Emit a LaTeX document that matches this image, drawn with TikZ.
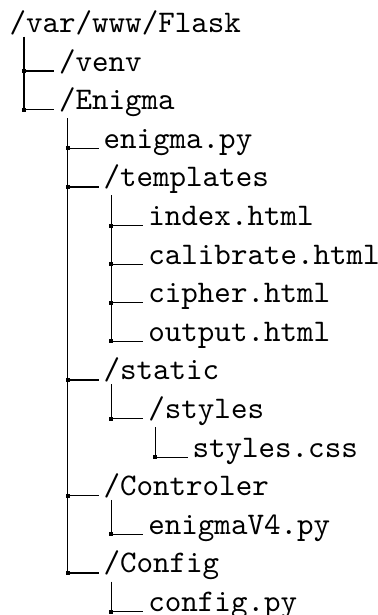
\documentclass[tikz,border=0pt]{standalone}
\usepackage{tikz}
\usetikzlibrary{calc}
\tikzset{
entry/.style={anchor=base west, inner xsep=0pt, inner ysep=0.3pt, scale=1.573,
	font=\fontsize{10}{12}\selectfont\ttfamily},
knot/.style={fill, inner sep=0pt, minimum size=2pt},
trunk/.style={line width=0.6pt},
branch/.style={trunk, shorten >=2.2pt},
}
\begin{document}
\begin{tikzpicture}[x=0.5pt, y=-0.5pt]
	\useasboundingbox (0,0) rectangle (378,615);
	% entries, one per row
	\node[entry] (flask) at (9,32.5) {/var/www/Flask};
	\node[entry] (venv) at (58.5,71.1) {/venv};
	\node[entry] (enigma) at (58.5,109.7) {/Enigma};
	\node[entry] (enigmapy) at (103,148.3) {enigma.py};
	\node[entry] (templates) at (103,186.9) {/templates};
	\node[entry] (index) at (147.8,225.5) {index.html};
	\node[entry] (calibrate) at (147.8,264.1) {calibrate.html};
	\node[entry] (cipher) at (147.8,302.7) {cipher.html};
	\node[entry] (output) at (147.8,341.3) {output.html};
	\node[entry] (static) at (103,379.9) {/static};
	\node[entry] (styles) at (147.8,418.5) {/styles};
	\node[entry] (stylescss) at (192,457.1) {styles.css};
	\node[entry] (controler) at (103,495.7) {/Controler};
	\node[entry] (enigmavf) at (147.8,534.3) {enigmaV4.py};
	\node[entry] (config) at (103,572.9) {/Config};
	\node[entry] (configpy) at (147.8,611.5) {config.py};
	
	% junction knots, at the trunk of each level
	\foreach \c/\x in {venv/24, enigma/24, enigmapy/67.5, templates/67.5,
		index/111.4, calibrate/111.4, cipher/111.4, output/111.4, static/67.5,
		styles/111.4, stylescss/155.1, controler/67.5, enigmavf/111.4,
		config/67.5, configpy/111.4}
		\node[knot] (k-\c) at (\c.base -| \x,0) {};
	
	% branches
	\foreach \c in {venv, enigma, enigmapy, templates, index, calibrate, cipher,
		output, static, styles, stylescss, controler, enigmavf, config, configpy}
		\draw[branch] (k-\c.center) -- (k-\c.center -| \c.west);
	
	% trunks
	\draw[trunk] (k-enigma.center |- flask.south) -- (k-enigma.center);
	\draw[trunk] (k-config.center |- enigma.south) -- (k-config.center);
	\draw[trunk] (k-output.center |- templates.south) -- (k-output.center);
	\draw[trunk] (k-styles.center |- static.south) -- (k-styles.center);
	\draw[trunk] (k-stylescss.center |- styles.south) -- (k-stylescss.center);
	\draw[trunk] (k-enigmavf.center |- controler.south) -- (k-enigmavf.center);
	\draw[trunk] (k-configpy.center |- config.south) -- (k-configpy.center);
\end{tikzpicture}
\end{document}
